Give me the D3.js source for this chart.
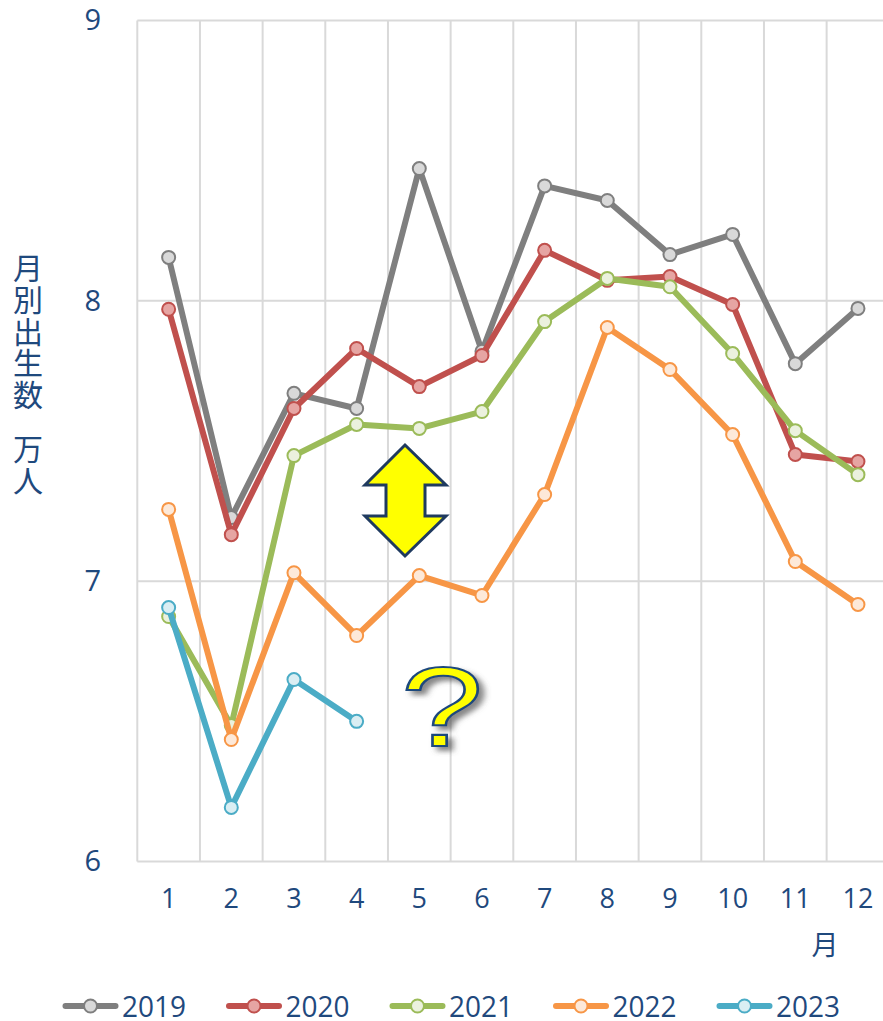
<!DOCTYPE html>
<html>
<head>
<meta charset="utf-8">
<script src="https://cdn.jsdelivr.net/npm/d3@7"></script>
<style>
    html, body { margin: 0; padding: 0; background: #fff; }
    svg { display: block; }
    text { fill: #1f497d; font-family: "Open Sans", "Noto Sans", sans-serif; }
    .cjk { font-family: "Noto Sans CJK JP", sans-serif; }
</style>
</head>
<body>
<div id="chart"></div>
<script>
const months = [1, 2, 3, 4, 5, 6, 7, 8, 9, 10, 11, 12];
const yTicks = [6, 7, 8, 9];
const years = ["2019", "2020", "2021", "2022", "2023"];
const lineColors = ["#7f7f7f", "#c0504d", "#9bbb59", "#f79646", "#4bacc6"];
const dotColors = ["#d9d9d9", "#e6a5a3", "#ebf1de", "#fde9d9", "#daeef3"];

const v2019 = [8.155, 7.227, 7.67, 7.616, 8.472, 7.82, 8.41, 8.358, 8.165, 8.237, 7.776, 7.973];
const v2020 = [7.97, 7.166, 7.616, 7.83, 7.694, 7.805, 8.18, 8.073, 8.087, 7.987, 7.452, 7.427];
const v2021 = [6.874, 6.485, 7.448, 7.559, 7.545, 7.605, 7.926, 8.08, 8.05, 7.812, 7.537, 7.38];
const v2022 = [7.256, 6.435, 7.03, 6.806, 7.02, 6.949, 7.309, 7.905, 7.755, 7.523, 7.07, 6.917];
const v2023 = [6.906, 6.193, 6.649, 6.5];
const allValues = [v2019, v2020, v2021, v2022, v2023];

const yTitleChars = ["月", "別", "出", "生", "数", "万", "人"];

const width = 883,
    height = 1021;

const svg = d3.select("#chart")
    .append("svg")
    .attr("width", width)
    .attr("height", height);

const x = d3.scaleBand().domain(months).range([137.3, 889.3]),
    y = d3.scaleLinear().domain([6, 9]).range([861.5, 20.5]);

// Grid lines sit on the band edges, so they are drawn from the band scale.
const edges = months.map(m => x(m)).concat([x.range()[1]]);

svg.append("g")
    .selectAll("line")
    .data(edges)
    .enter()
    .append("line")
    .attr("x1", d => d)
    .attr("x2", d => d)
    .attr("y1", y(9))
    .attr("y2", y(6))
    .attr("stroke", "#d9d9d9")
    .attr("stroke-width", 2);

svg.append("g")
    .selectAll("line")
    .data(yTicks)
    .enter()
    .append("line")
    .attr("x1", x.range()[0])
    .attr("x2", x.range()[1])
    .attr("y1", d => y(d))
    .attr("y2", d => y(d))
    .attr("stroke", "#d9d9d9")
    .attr("stroke-width", 2);

const yAxis = svg.append("g")
    .attr("transform", "translate(101,0)")
    .call(d3.axisLeft(y).tickValues(yTicks).tickSize(0).tickPadding(0).tickFormat(d3.format("d")));
yAxis.select(".domain").remove();
yAxis.selectAll("text")
    .style("font-family", '"Open Sans", sans-serif')
    .style("font-size", "29px")
    .attr("fill", "#1f497d");

const xAxis = svg.append("g")
    .attr("transform", "translate(0,861)")
    .call(d3.axisBottom(x).tickSize(0).tickPadding(28));
xAxis.select(".domain").remove();
xAxis.selectAll("text")
    .style("font-family", '"Open Sans", sans-serif')
    .style("font-size", "27px")
    .attr("fill", "#1f497d");

const line = d3.line()
    .x((d, i) => x(months[i]) + x.bandwidth() / 2)
    .y(d => y(d));

allValues.forEach((values, si) => {
    const g = svg.append("g");
    g.append("path")
        .attr("d", line(values))
        .attr("fill", "none")
        .attr("stroke", lineColors[si])
        .attr("stroke-width", 6)
        .attr("stroke-linejoin", "round")
        .attr("stroke-linecap", "round");
    g.selectAll("circle")
        .data(values)
        .enter()
        .append("circle")
        .attr("cx", (d, i) => x(months[i]) + x.bandwidth() / 2)
        .attr("cy", d => y(d))
        .attr("r", 6.5)
        .attr("fill", dotColors[si])
        .attr("stroke", lineColors[si])
        .attr("stroke-width", 2);
});

// Axis titles
svg.append("text")
    .attr("class", "cjk")
    .attr("text-anchor", "middle")
    .style("font-size", "30px")
    .selectAll("tspan")
    .data(yTitleChars)
    .enter()
    .append("tspan")
    .attr("x", 28)
    .attr("y", (d, i) => 279 + i * 31.8 + (i > 4 ? 22 : 0))
    .text(d => d);

svg.append("text")
    .attr("class", "cjk")
    .attr("x", 825)
    .attr("y", 955)
    .attr("text-anchor", "middle")
    .style("font-size", "27px")
    .text("月");

// Legend
const legendX = d3.scalePoint().domain(years).range([63, 717]);
const legend = svg.append("g")
    .selectAll("g")
    .data(years)
    .enter()
    .append("g")
    .attr("transform", d => `translate(${legendX(d)},1006)`);

legend.append("line")
    .attr("x1", 2.5)
    .attr("x2", 52.5)
    .attr("stroke", (d, i) => lineColors[i])
    .attr("stroke-width", 6)
    .attr("stroke-linecap", "round");

legend.append("circle")
    .attr("cx", 27.5)
    .attr("r", 6.5)
    .attr("fill", (d, i) => dotColors[i])
    .attr("stroke", (d, i) => lineColors[i])
    .attr("stroke-width", 2);

legend.append("text")
    .attr("x", 59)
    .attr("y", 10.5)
    .style("font-size", "29px")
    .attr("textLength", 64)
    .attr("lengthAdjust", "spacingAndGlyphs")
    .text(d => d);

// Hand placed annotations: double arrow and question mark
svg.append("path")
    .attr("d", "M405,445 L446,485 L425,485 L425,516 L446,516 L405,556 L365,516 L386,516 L386,485 L365,485 Z")
    .attr("fill", "#ffff00")
    .attr("stroke", "#1f3a5f")
    .attr("stroke-width", 3)
    .attr("stroke-linejoin", "miter");

const defs = svg.append("defs");
const shadow = defs.append("filter").attr("id", "shadow")
    .attr("x", "-30%").attr("y", "-30%").attr("width", "170%").attr("height", "170%");
shadow.append("feDropShadow")
    .attr("dx", 4)
    .attr("dy", 4)
    .attr("stdDeviation", 2.5)
    .attr("flood-color", "#555")
    .attr("flood-opacity", 0.7);

svg.append("text")
    .attr("transform", "translate(442,746) scale(1.35,1.03)")
    .attr("text-anchor", "middle")
    .attr("filter", "url(#shadow)")
    .style("font-family", '"Liberation Sans", sans-serif')
    .style("font-size", "110px")
    .style("fill", "#ffff00")
    .style("stroke", "#1f497d")
    .style("stroke-width", 2)
    .text("?");
</script>
</body>
</html>
